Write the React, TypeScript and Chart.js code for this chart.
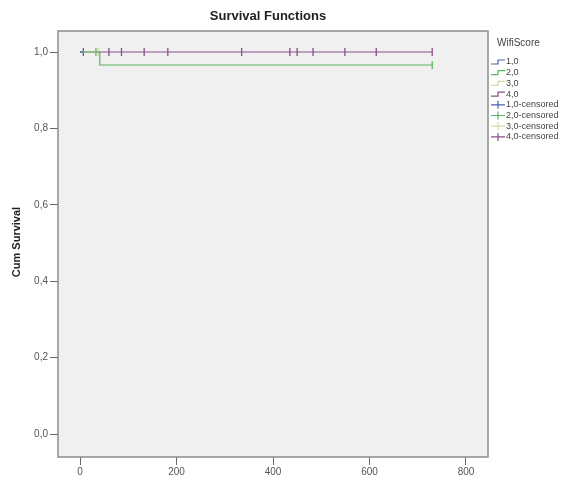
import React, { useEffect, useRef } from "react";
import { Chart, registerables } from "chart.js";

Chart.register(...registerables);

// ---- data ----
const groupLabels = ["1,0", "2,0", "3,0", "4,0"];
const groupColors = ["#4A62AE", "#5DB464", "#DAD6A4", "#87508C"];

// Kaplan-Meier step curves (time, cumulative survival)
const g1Times = [0, 7];
const g1Surv = [1.0, 1.0];
const g2Times = [0, 41, 730];
const g2Surv = [1.0, 0.966, 0.966];
const g3Times = [0, 38];
const g3Surv = [1.0, 1.0];
const g4Times = [0, 730];
const g4Surv = [1.0, 1.0];

// censored observations
const g1CensTimes = [7];
const g1CensSurv = [1.0];
const g2CensTimes = [33, 730];
const g2CensSurv = [1.0, 0.966];
const g3CensTimes = [38];
const g3CensSurv = [1.0];
const g4CensTimes = [60, 86, 133, 182, 335, 435, 450, 483, 549, 614, 730];
const g4CensSurv = [1, 1, 1, 1, 1, 1, 1, 1, 1, 1, 1];

const xTicks = [0, 200, 400, 600, 800];
const yTicks = [0, 0.2, 0.4, 0.6, 0.8, 1.0];

const chartTitle = "Survival Functions";
const yTitle = "Cum Survival";
const legendTitle = "WifiScore";

const toPts = (xs: number[], ys: number[]) => xs.map((x, i) => ({ x, y: ys[i] }));

export default function App() {
  const ref = useRef<HTMLCanvasElement | null>(null);

  useEffect(() => {
    const canvas = ref.current;
    if (!canvas) return;

    const curves = [
      [g1Times, g1Surv],
      [g2Times, g2Surv],
      [g3Times, g3Surv],
      [g4Times, g4Surv],
    ];
    const cens = [
      [g1CensTimes, g1CensSurv],
      [g2CensTimes, g2CensSurv],
      [g3CensTimes, g3CensSurv],
      [g4CensTimes, g4CensSurv],
    ];

    const datasets: any[] = [];
    curves.forEach(([xs, ys], i) => {
      datasets.push({
        label: groupLabels[i],
        data: toPts(xs as number[], ys as number[]),
        showLine: true,
        stepped: "before",
        borderColor: groupColors[i],
        borderWidth: 1.2,
        pointRadius: 0,
        fill: false,
      });
    });
    cens.forEach(([xs, ys], i) => {
      datasets.push({
        label: groupLabels[i] + "-censored",
        data: toPts(xs as number[], ys as number[]),
        showLine: false,
        pointStyle: "line",
        rotation: 90,
        pointRadius: 4,
        borderColor: groupColors[i],
        backgroundColor: groupColors[i],
        pointBorderWidth: 1.3,
      });
    });

    const framePlugin = {
      id: "frame",
      beforeDraw(chart: any) {
        const { ctx, chartArea: a } = chart;
        ctx.save();
        ctx.fillStyle = "#ffffff";
        ctx.fillRect(0, 0, chart.width, chart.height);
        ctx.fillStyle = "#f0f0f0";
        ctx.fillRect(a.left, a.top, a.right - a.left, a.bottom - a.top);
        ctx.restore();
      },
      afterDraw(chart: any) {
        const { ctx, chartArea: a } = chart;
        ctx.save();
        ctx.strokeStyle = "#8c8c8c";
        ctx.lineWidth = 1.5;
        ctx.strokeRect(a.left, a.top, a.right - a.left, a.bottom - a.top);

        // chart title
        ctx.fillStyle = "#222";
        ctx.font = "bold 13px 'Liberation Sans', Arial, sans-serif";
        ctx.textAlign = "center";
        ctx.textBaseline = "middle";
        ctx.fillText(chartTitle, 268, 16);

        // y-axis title
        ctx.save();
        ctx.translate(17, (a.top + a.bottom) / 2 - 2);
        ctx.rotate(-Math.PI / 2);
        ctx.font = "bold 11px 'Liberation Sans', Arial, sans-serif";
        ctx.fillText(yTitle, 0, 0);
        ctx.restore();

        // legend
        const lx = 491;
        ctx.textAlign = "left";
        ctx.font = "10px 'Liberation Sans', Arial, sans-serif";
        ctx.fillStyle = "#444";
        ctx.fillText(legendTitle, 497, 43);
        ctx.font = "9px 'Liberation Sans', Arial, sans-serif";
        const step = 10.7;
        let y = 62;
        for (let i = 0; i < 4; i++) {
          ctx.strokeStyle = groupColors[i];
          ctx.lineWidth = 1.2;
          ctx.beginPath();
          ctx.moveTo(lx, y + 2);
          ctx.lineTo(lx + 7, y + 2);
          ctx.lineTo(lx + 7, y - 2);
          ctx.lineTo(lx + 14, y - 2);
          ctx.stroke();
          ctx.fillStyle = "#444";
          ctx.fillText(groupLabels[i], lx + 15, y);
          y += step;
        }
        for (let i = 0; i < 4; i++) {
          ctx.strokeStyle = groupColors[i];
          ctx.lineWidth = 1.2;
          ctx.beginPath();
          ctx.moveTo(lx, y);
          ctx.lineTo(lx + 14, y);
          ctx.moveTo(lx + 7, y - 4);
          ctx.lineTo(lx + 7, y + 4);
          ctx.stroke();
          ctx.fillStyle = "#444";
          ctx.fillText(groupLabels[i] + "-censored", lx + 15, y);
          y += step;
        }
        ctx.restore();
      },
    };

    const tickFont = { family: "'Liberation Sans', Arial, sans-serif", size: 10 };

    const chart = new Chart(canvas, {
      type: "scatter",
      data: { datasets },
      options: {
        animation: false,
        responsive: false,
        devicePixelRatio: 1,
        layout: { padding: { left: 0, top: 31, right: 95, bottom: 0 } },
        plugins: {
          legend: { display: false },
          tooltip: { enabled: false },
          title: { display: false },
        },
        scales: {
          x: {
            type: "linear",
            min: -45.6,
            max: 845.6,
            afterBuildTicks: (s: any) => {
              s.ticks = xTicks.map((v) => ({ value: v }));
            },
            afterFit: (s: any) => {
              s.height = 22;
            },
            ticks: {
              color: "#555",
              font: tickFont,
              padding: 1,
              maxRotation: 0,
              callback: (v: any) => String(v),
            },
            grid: {
              drawOnChartArea: false,
              drawTicks: true,
              tickLength: 8,
              color: "#666",
              lineWidth: 1,
            },
            border: { display: false },
          },
          y: {
            type: "linear",
            min: -0.06,
            max: 1.055,
            afterBuildTicks: (s: any) => {
              s.ticks = yTicks.map((v) => ({ value: v }));
            },
            afterFit: (s: any) => {
              s.width = 58;
            },
            ticks: {
              color: "#555",
              font: tickFont,
              padding: 2,
              callback: (v: any) => Number(v).toFixed(1).replace(".", ","),
            },
            grid: {
              drawOnChartArea: false,
              drawTicks: true,
              tickLength: 8,
              color: "#666",
              lineWidth: 1,
            },
            border: { display: false },
          },
        },
      },
      plugins: [framePlugin],
    } as any);

    return () => chart.destroy();
  }, []);

  return (
    <div style={{ position: "fixed", left: 0, top: 0, width: 583, height: 479, background: "#fff" }}>
      <canvas ref={ref} width={583} height={479} style={{ width: 583, height: 479, display: "block" }} />
    </div>
  );
}
